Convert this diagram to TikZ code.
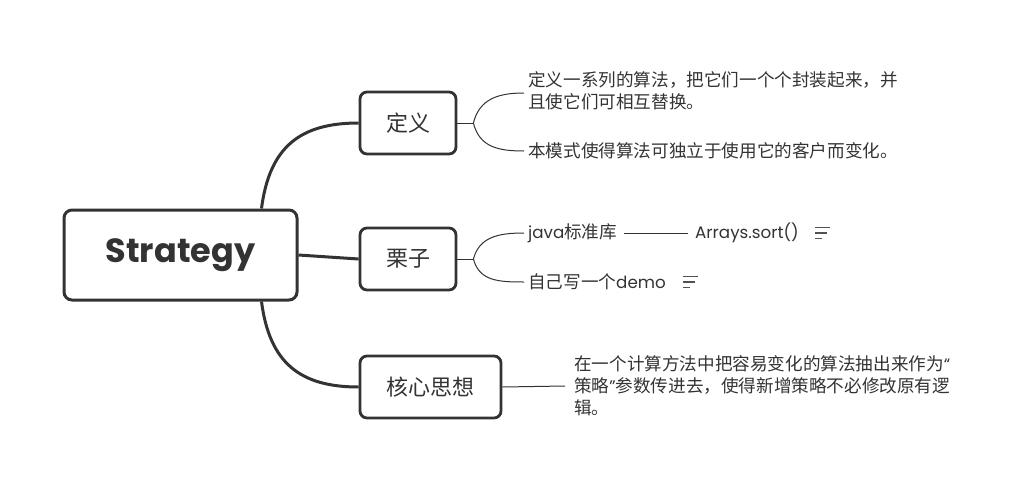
\documentclass[tikz,border=0pt]{standalone}
\usepackage{fontspec}
\setmainfont{Noto Sans CJK SC}
\newfontfamily\latin{Poppins}[Scale=0.95]
\newfontfamily\titlefont{Poppins}[UprightFont=* Bold]
\usetikzlibrary{positioning}
\definecolor{ink}{HTML}{333333}
\tikzset{
    root/.style={draw=ink, line width=3pt, rounded corners=8pt, minimum width=233pt, minimum height=90pt, text=ink, font=\titlefont\fontsize{33.5}{38}\selectfont}, % 中心主题
    topic/.style={draw=ink, line width=2.8pt, rounded corners=7pt, minimum height=62pt, text=ink, font=\fontsize{22}{26}\selectfont}, % 分支主题
    leaf/.style={anchor=west, align=left, inner sep=0pt, text=ink, font=\fontsize{17.6}{22}\selectfont}, % 子主题文字
    branch/.style={draw=ink, line width=3pt},
    twig/.style={draw=ink, line width=1pt},
    note/.pic={\draw[line width=1.4pt, draw=ink!85] (0,-5.5) -- (15,-5.5) (0,0) -- (12,0) (0,5.5) -- (7,5.5);}
}

\begin{document}
\begin{tikzpicture}[x=1pt, y=-1pt]
    \useasboundingbox (0,0) rectangle (1017,490);

    % 主题
    \node[root] (strategy) at (180.5,255) {Strategy};
    \node[topic, minimum width=96pt] (def) at (408,123) {定义};
    \node[topic, minimum width=96pt] (ex) at (408,259) {栗子};
    \node[topic, minimum width=141pt] (core) at (430.5,387) {核心思想};

    \coordinate (rootTop) at ([xshift=-37pt]strategy.north east);
    \coordinate (rootBottom) at ([xshift=-37pt]strategy.south east);
    \draw[branch] (rootTop) .. controls +(8,-62) and +(-58,0) .. (def.west);
    \draw[branch] (strategy.east) -- (ex.west);
    \draw[branch] (rootBottom) .. controls +(8,62) and +(-58,0) .. (core.west);

    % 定义
    \node[leaf] (defOne) at (528,91) {定义一系列的算法，把它们一个个封装起来，并\\且使它们可相互替换。};
    \node[leaf] (defTwo) at (528,151) {本模式使得算法可独立于使用它的客户而变化。};
    \coordinate[right=16pt of def.east] (defFork);
    \draw[twig] (def.east) -- (defFork);
    \draw[twig] (defFork) .. controls +(6,-24) and +(-26,0) .. ([xshift=-4pt, yshift=-2pt]defOne.west);
    \draw[twig] (defFork) .. controls +(6,24) and +(-26,0) .. ([xshift=-4pt]defTwo.west);

    % 栗子
    \node[leaf] (javaLib) at (528,233) {{\latin java}标准库};
    \node[leaf] (arrays) at (695,233) {\latin Arrays.sort()};
    \node[leaf] (demo) at (528,282) {自己写一个{\latin demo}};
    \coordinate[right=16pt of ex.east] (exFork);
    \draw[twig] (ex.east) -- (exFork);
    \draw[twig] (exFork) .. controls +(6,-22) and +(-26,0) .. ([xshift=-4pt]javaLib.west);
    \draw[twig] (exFork) .. controls +(6,22) and +(-26,0) .. ([xshift=-4pt]demo.west);
    \draw[twig] ([xshift=7pt]javaLib.east) -- ([xshift=-7pt]arrays.west);
    \pic at ([xshift=16pt]arrays.east) {note};
    \pic at ([xshift=17pt]demo.east) {note};

    % 核心思想
    \node[leaf] (coreText) at (574,386) {在一个计算方法中把容易变化的算法抽出来作为{\latin “}\\策略{\latin ”}参数传进去，使得新增策略不必修改原有逻\\辑。};
    \draw[twig] (core.east) -- ([xshift=-9pt]coreText.west);
\end{tikzpicture}
\end{document}
